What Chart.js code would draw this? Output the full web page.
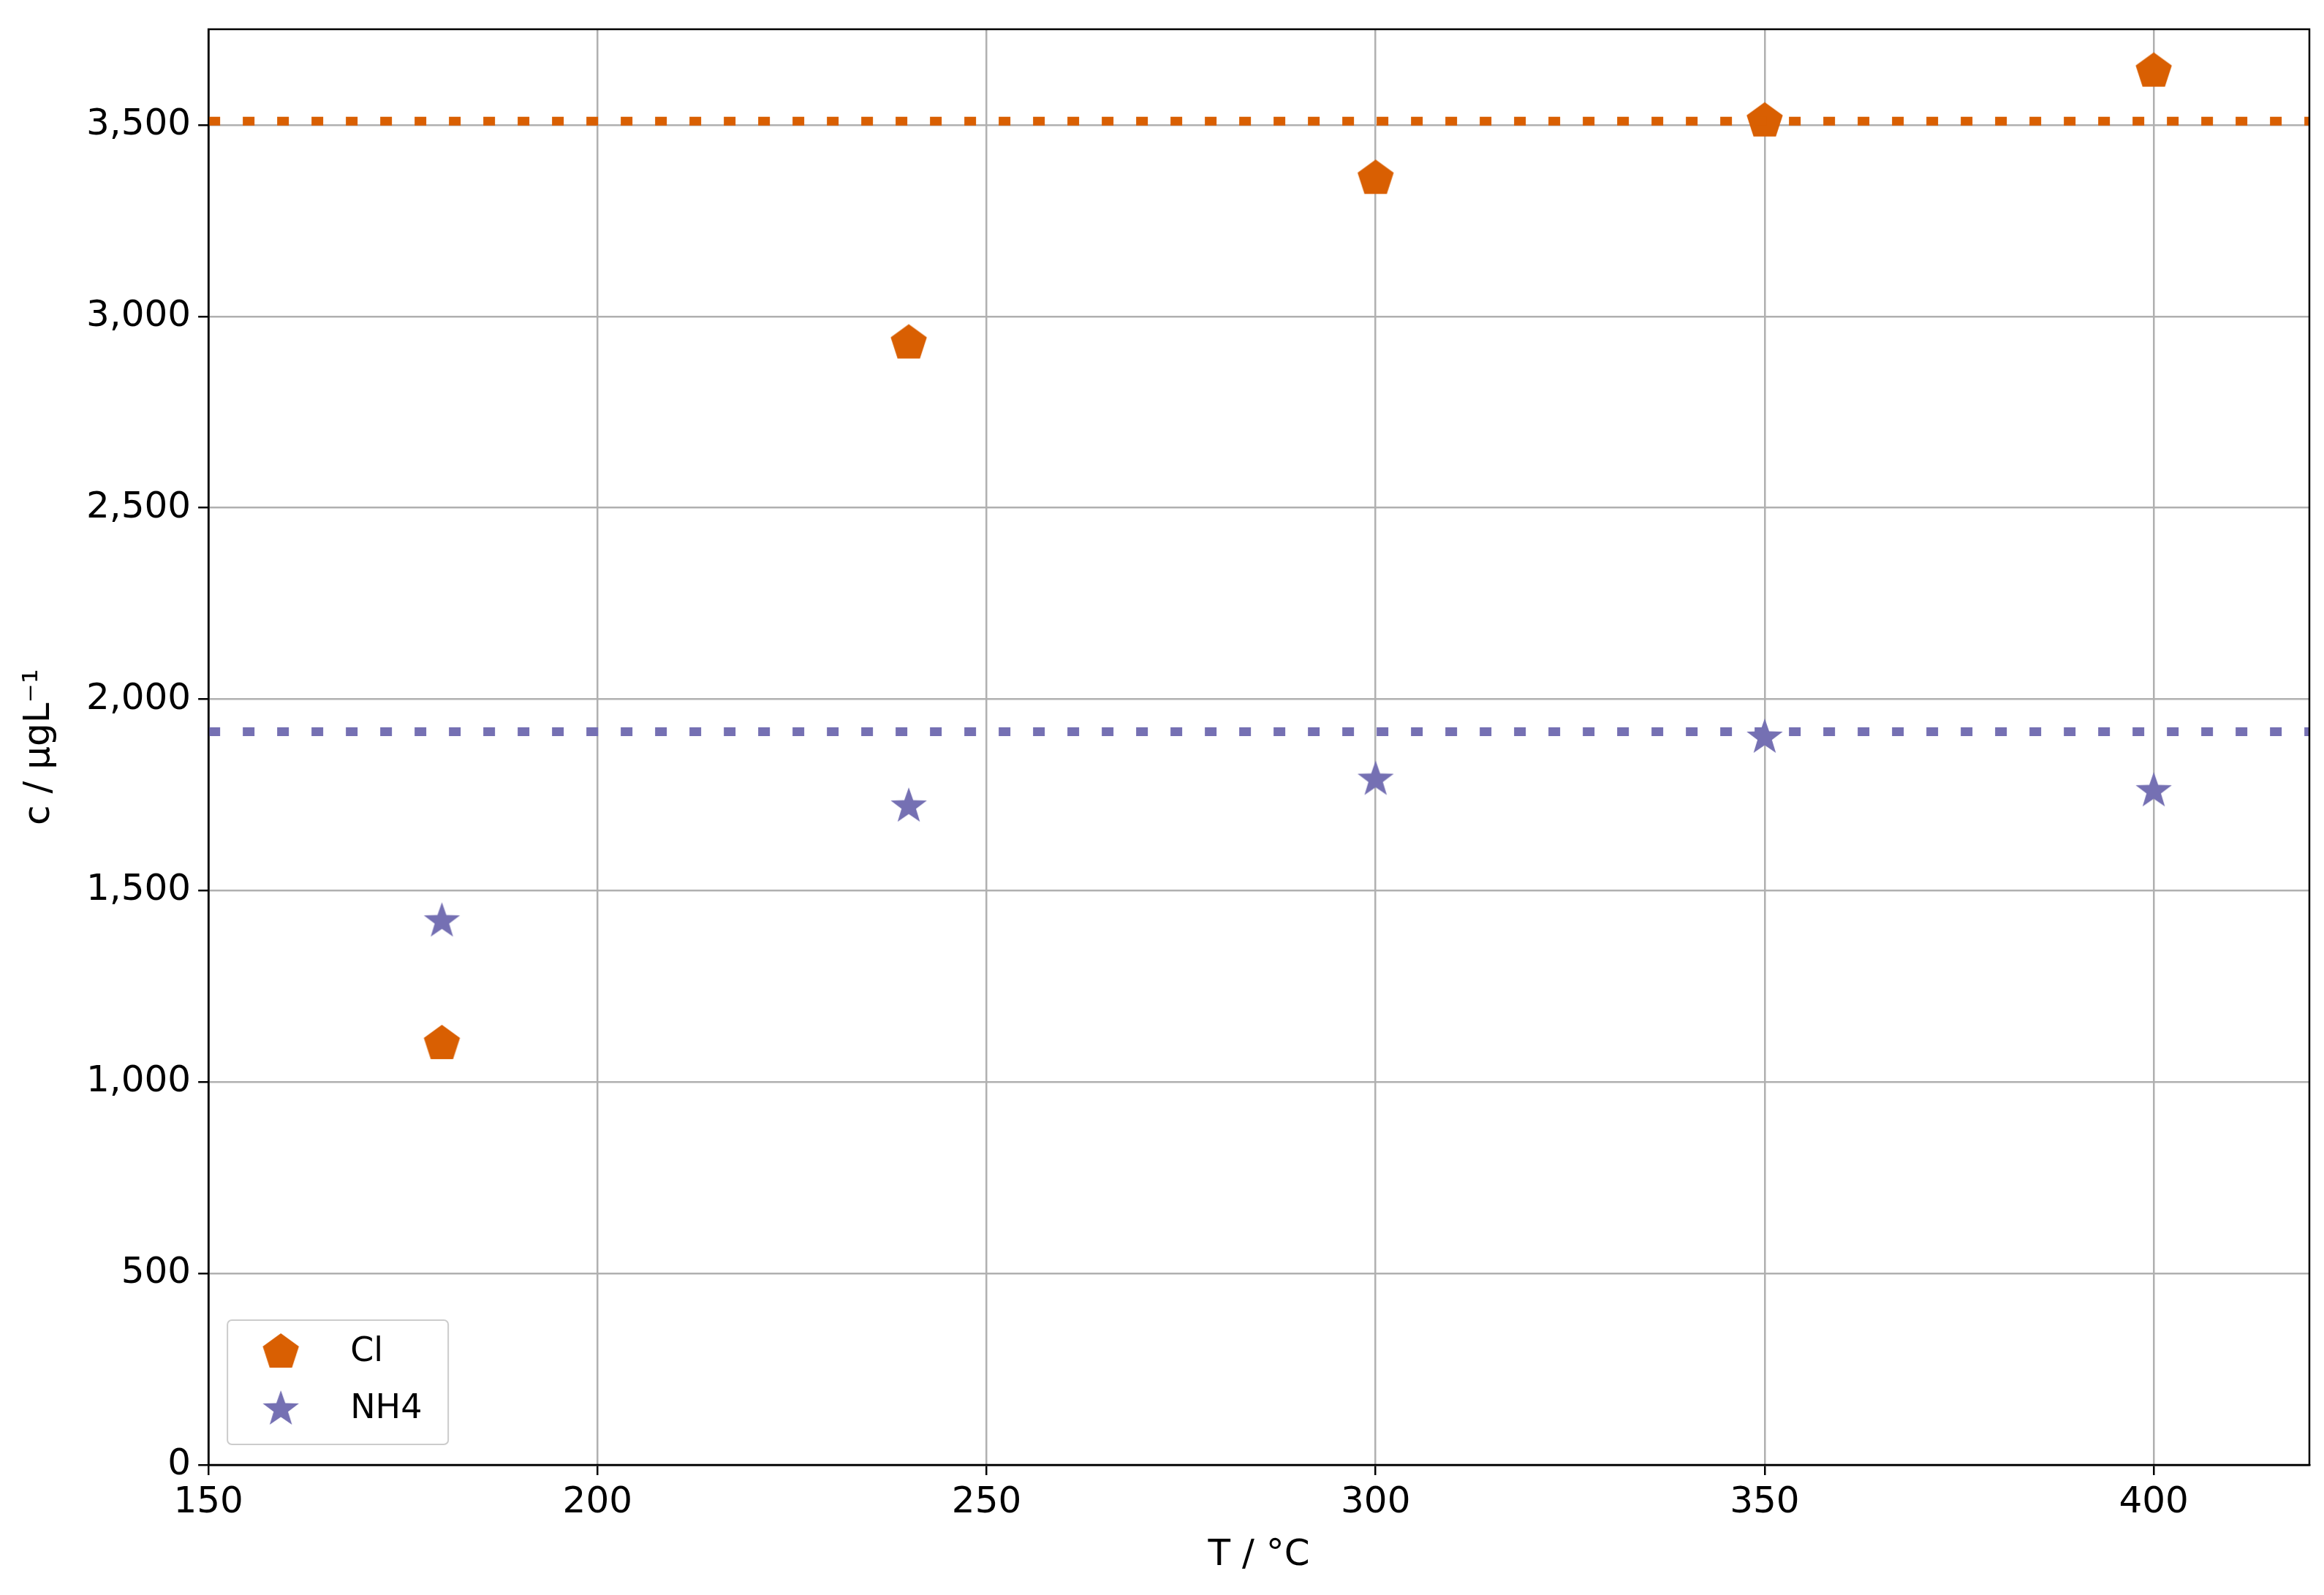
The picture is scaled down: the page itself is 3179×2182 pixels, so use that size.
<!DOCTYPE html>
<html>
<head>
<meta charset="utf-8">
<script src="https://cdn.jsdelivr.net/npm/chart.js@4"></script>
<style>body{margin:0;background:#fff}</style>
</head>
<body>
<canvas id="c" width="3179" height="2182"></canvas>
<script>
const temps = [180, 240, 300, 350, 400];
const clValues = [1100, 2930, 3360, 3510, 3640];
const nh4Values = [1420, 1720, 1790, 1900, 1760];
const clMean = 3510;
const nh4Mean = 1915;
const xRange = [150, 420];
const xTicks = [150, 200, 250, 300, 350, 400];
const yTicks = [0, 500, 1000, 1500, 2000, 2500, 3000, 3500];
const clColor = "#d95f02";
const nh4Color = "#7570b3";

function makeMarker(kind, color, size) {
    const cv = document.createElement("canvas");
    cv.width = size; cv.height = size;
    const g = cv.getContext("2d");
    const c = size / 2, R = size / 2 - 1;
    g.beginPath();
    const n = kind === "pentagon" ? 5 : 10;
    for (let i = 0; i < n; i++) {
        const a = -Math.PI / 2 + i * 2 * Math.PI / n;
        const r = kind === "star" && i % 2 ? R * 0.4 : R;
        const x = c + r * Math.cos(a), y = c + r * Math.sin(a);
        i ? g.lineTo(x, y) : g.moveTo(x, y);
    }
    g.closePath();
    g.fillStyle = color;
    g.fill();
    return cv;
}

const pent = makeMarker("pentagon", clColor, 54);
const star = makeMarker("star", nh4Color, 54);

const legendBox = {
    id: "legendBox",
    afterDraw(chart) {
        const ctx = chart.ctx, a = chart.chartArea;
        const x = a.left + 26, y = a.bottom - 198, w = 302, h = 170;
        ctx.save();
        ctx.fillStyle = "rgba(255,255,255,0.8)";
        ctx.strokeStyle = "#cccccc";
        ctx.lineWidth = 2;
        ctx.beginPath();
        ctx.roundRect(x, y, w, h, 6);
        ctx.fill(); ctx.stroke();
        ctx.drawImage(pent, x + 46, y + 17);
        ctx.drawImage(star, x + 46, y + 95);
        ctx.fillStyle = "#000";
        ctx.font = "46px 'DejaVu Sans'";
        ctx.textBaseline = "middle";
        ctx.fillText("Cl", x + 168, y + 44);
        ctx.fillText("NH4", x + 168, y + 122);
        ctx.restore();
    }
};

const pts = (xs, ys) => xs.map((x, i) => ({x: x, y: ys[i]}));
const meanLine = v => xRange.map(x => ({x: x, y: v}));
const fixTicks = list => scale => { scale.ticks = list.map(v => ({value: v})); };

new Chart(document.getElementById("c"), {
    type: "scatter",
    data: {
        datasets: [
            {label: "Cl mean", data: meanLine(clMean), showLine: true, borderColor: clColor,
             borderWidth: 12, borderDash: [16, 31], pointRadius: 0},
            {label: "NH4 mean", data: meanLine(nh4Mean), showLine: true, borderColor: nh4Color,
             borderWidth: 12, borderDash: [16, 31], pointRadius: 0},
            {label: "Cl", data: pts(temps, clValues), pointStyle: pent, backgroundColor: clColor},
            {label: "NH4", data: pts(temps, nh4Values), pointStyle: star, backgroundColor: nh4Color}
        ]
    },
    options: {
        responsive: false,
        devicePixelRatio: 1,
        animation: false,
        layout: {padding: {left: 20, right: 20, top: 24, bottom: 20}},
        plugins: {legend: {display: false}, tooltip: {enabled: false}},
        scales: {
            x: {
                type: "linear", min: 150, max: 420,
                afterBuildTicks: fixTicks(xTicks),
                ticks: {color: "#000", font: {size: 50, family: "DejaVu Sans"}, padding: 8, autoSkip: false},
                grid: {color: "#b0b0b0", lineWidth: 2.5, tickLength: 14, tickColor: "#000"},
                border: {color: "#000", width: 2.5},
                title: {display: true, text: "T / °C", color: "#000", font: {size: 50, family: "DejaVu Sans"}, padding: {top: 4}}
            },
            y: {
                type: "linear", min: 0, max: 3750,
                afterBuildTicks: fixTicks(yTicks),
                ticks: {color: "#000", font: {size: 50, family: "DejaVu Sans"}, padding: 10, autoSkip: false},
                grid: {color: "#b0b0b0", lineWidth: 2.5, tickLength: 14, tickColor: "#000"},
                border: {color: "#000", width: 2.5},
                title: {display: true, text: "c / μgL⁻¹", color: "#000", font: {size: 50, family: "DejaVu Sans"}, padding: {bottom: 24}}
            }
        }
    },
    plugins: [legendBox, {
        id: "frame",
        afterDraw(chart) {
            const ctx = chart.ctx, a = chart.chartArea;
            ctx.save();
            ctx.strokeStyle = "#000"; ctx.lineWidth = 2.5;
            ctx.strokeRect(a.left, a.top, a.right - a.left, a.bottom - a.top);
            ctx.restore();
        }
    }]
});
</script>
</body>
</html>
